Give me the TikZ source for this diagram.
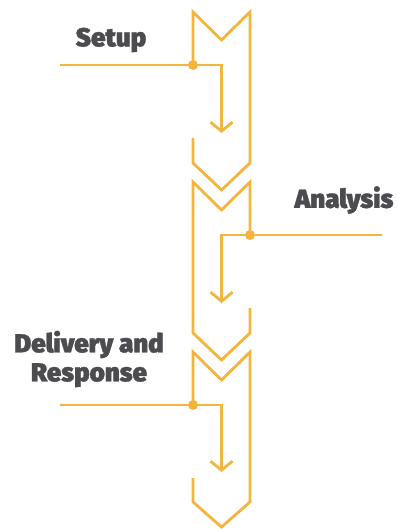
\documentclass[tikz,border=0pt]{standalone}
\usepackage{fontspec}
\setmainfont{Fira Sans}
\newfontfamily\labelfont[FakeBold=1.2]{Fira Sans Black}
\usetikzlibrary{arrows.meta}
\definecolor{flow}{HTML}{F5B43C}
\definecolor{ink}{HTML}{4B4B50}
\begin{document}
\begin{tikzpicture}[x=1pt,y=-1pt,
  outline/.style={draw=flow,line width=2.8pt,line join=miter},
  link/.style={draw=flow,line width=2.8pt,-{Straight Barb[length=9pt,width=22pt,line width=2.8pt]}},
  joint/.style={circle,fill=flow,inner sep=0pt,minimum size=10pt},
  stage/.style={text=ink,font=\labelfont\fontsize{26}{29}\selectfont,align=center,inner sep=0pt}]
\useasboundingbox (0,0) rectangle (396,529);

% stage 1: Setup
\draw[outline] (193,65) -- (193,12) -- (221.5,40) -- (250,12) -- (250,163)
  -- (221.5,190) -- (193,163) -- (193,138);
\node[joint] (j1) at (193,65) {};
\coordinate (s1) at (60,65);
\coordinate (b1) at (221.5,65);
\coordinate (e1) at (221.5,133);
\draw[outline] (s1) -- (j1.center);
\draw[link] (j1.center) -- (b1) -- (e1);
\node[stage] (setup) at (111,40) {Setup};

% stage 2: Analysis
\draw[outline] (250,235) -- (250,182) -- (221.5,210) -- (193,182) -- (193,333)
  -- (221.5,360) -- (250,333) -- (250,308);
\node[joint] (j2) at (250,235) {};
\coordinate (s2) at (382,235);
\coordinate (b2) at (221.5,235);
\coordinate (e2) at (221.5,303);
\draw[outline] (s2) -- (j2.center);
\draw[link] (j2.center) -- (b2) -- (e2);
\node[stage] (analysis) at (344,200) {Analysis};

% stage 3: Delivery and Response
\draw[outline] (193,405) -- (193,352) -- (221.5,380) -- (250,352) -- (250,502)
  -- (221.5,527) -- (193,502) -- (193,478);
\node[joint] (j3) at (193,405) {};
\coordinate (s3) at (60,405);
\coordinate (b3) at (221.5,405);
\coordinate (e3) at (221.5,472);
\draw[outline] (s3) -- (j3.center);
\draw[link] (j3.center) -- (b3) -- (e3);
\node[stage] (delivery) at (89,359) {Delivery and\\Response};
\end{tikzpicture}
\end{document}
